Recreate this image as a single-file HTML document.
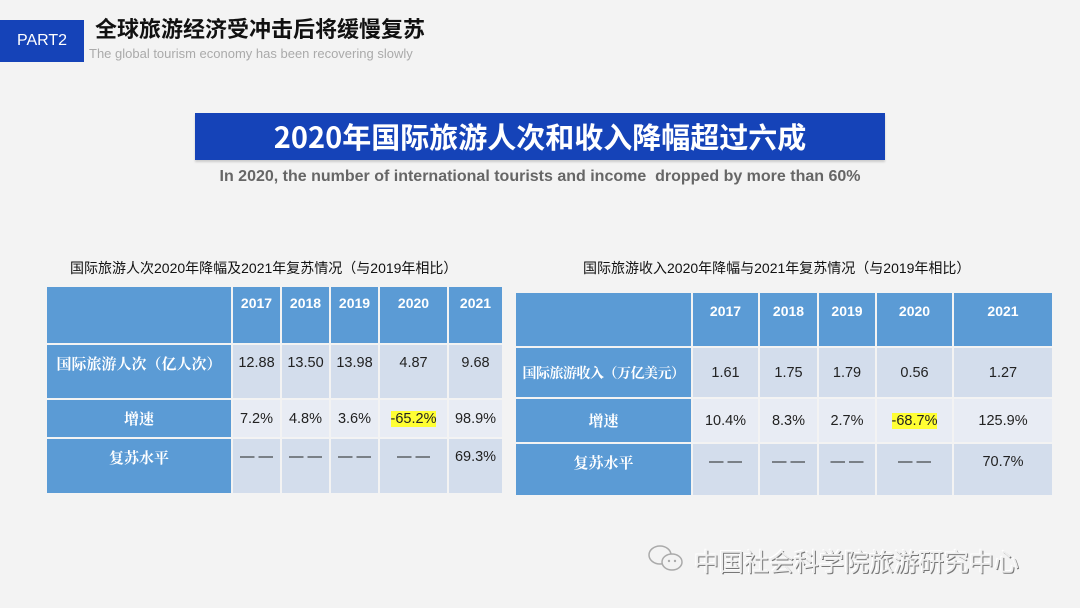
<!DOCTYPE html>
<html><head><meta charset="utf-8">
<style>
body{margin:0;width:1080px;height:608px;background:#f3f3f3;position:relative;overflow:hidden;font-family:"Liberation Sans","Noto Sans CJK SC",sans-serif}
.abs{position:absolute}
table{position:absolute;border-collapse:collapse;table-layout:fixed}
td{border:2px solid #f3f3f3;text-align:center;padding:0;font-size:14.5px;color:#222}
td.h{background:#5b9bd5;color:#fff;font-weight:bold;font-size:14px;vertical-align:top;padding-top:8px}
td.l{background:#5b9bd5;color:#fff;font-family:"Noto Serif CJK SC",serif;font-weight:bold;font-size:15px}
td.a{background:#d3ddec}
td.b{background:#e8ecf4}
.hl{background:#ffff33}
.d{letter-spacing:-1px}
</style></head><body>
<div class="abs" style="left:0;top:20px;width:84px;height:42px;background:#1543b8;color:#fff;font-size:16px;line-height:42px;text-align:center">PART2</div>
<div class="abs" style="left:95px;top:12px;font-size:22px;font-weight:bold;color:#111;font-family:'Noto Sans CJK SC',sans-serif">全球旅游经济受冲击后将缓慢复苏</div>
<div class="abs" style="left:89px;top:46px;font-size:13px;color:#aaa">The global tourism economy has been recovering slowly</div>
<div class="abs" style="left:195px;top:113px;width:690px;height:47px;background:#1543b8;color:#fff;font-size:29px;font-weight:bold;text-align:center;line-height:47px;font-family:'Noto Sans CJK SC',sans-serif;box-shadow:0 2px 2px #ccc">2020年国际旅游人次和收入降幅超过六成</div>
<div class="abs" style="left:195px;top:168px;width:690px;text-align:center;font-size:16px;font-weight:bold;color:#666">In 2020, the number of international tourists and income&nbsp; dropped by more than 60%</div>

<div class="abs" style="left:70px;top:258px;font-size:14px;color:#111">国际旅游人次2020年降幅及2021年复苏情况（与2019年相比）</div>
<table style="left:45px;top:285px;width:457px">
<colgroup><col style="width:186px"><col style="width:49px"><col style="width:49px"><col style="width:49px"><col style="width:69px"><col style="width:55px"></colgroup>
<tr style="height:58px"><td class="h"></td><td class="h">2017</td><td class="h">2018</td><td class="h">2019</td><td class="h">2020</td><td class="h">2021</td></tr>
<tr style="height:55px"><td class="l" style="vertical-align:top;padding-top:8px">国际旅游人次（亿人次）</td><td class="a" style="vertical-align:top;padding-top:10px">12.88</td><td class="a" style="vertical-align:top;padding-top:10px">13.50</td><td class="a" style="vertical-align:top;padding-top:10px">13.98</td><td class="a" style="vertical-align:top;padding-top:10px">4.87</td><td class="a" style="vertical-align:top;padding-top:10px">9.68</td></tr>
<tr style="height:39px"><td class="l">增速</td><td class="b">7.2%</td><td class="b">4.8%</td><td class="b">3.6%</td><td class="b"><span class="hl">-65.2%</span></td><td class="b">98.9%</td></tr>
<tr style="height:56px"><td class="l" style="vertical-align:top;padding-top:8px">复苏水平</td><td class="a" style="vertical-align:top;padding-top:10px">— —</td><td class="a" style="vertical-align:top;padding-top:10px">— —</td><td class="a" style="vertical-align:top;padding-top:10px">— —</td><td class="a" style="vertical-align:top;padding-top:10px">— —</td><td class="a" style="vertical-align:top;padding-top:10px">69.3%</td></tr>
</table>

<div class="abs" style="left:583px;top:258px;font-size:14px;color:#111">国际旅游收入2020年降幅与2021年复苏情况（与2019年相比）</div>
<table style="left:514px;top:291px;width:538px">
<colgroup><col style="width:177px"><col style="width:67px"><col style="width:59px"><col style="width:58px"><col style="width:77px"><col style="width:100px"></colgroup>
<tr style="height:55px"><td class="h" style="padding-top:10px">&nbsp;</td><td class="h" style="padding-top:10px">2017</td><td class="h" style="padding-top:10px">2018</td><td class="h" style="padding-top:10px">2019</td><td class="h" style="padding-top:10px">2020</td><td class="h" style="padding-top:10px">2021</td></tr>
<tr style="height:51px"><td class="l" style="font-size:14px;white-space:nowrap;letter-spacing:-0.5px">国际旅游收入（万亿美元）</td><td class="a">1.61</td><td class="a">1.75</td><td class="a">1.79</td><td class="a">0.56</td><td class="a">1.27</td></tr>
<tr style="height:45px"><td class="l">增速</td><td class="b">10.4%</td><td class="b">8.3%</td><td class="b">2.7%</td><td class="b"><span class="hl">-68.7%</span></td><td class="b">125.9%</td></tr>
<tr style="height:53px"><td class="l" style="vertical-align:top;padding-top:8px">复苏水平</td><td class="a" style="vertical-align:top;padding-top:10px">— —</td><td class="a" style="vertical-align:top;padding-top:10px">— —</td><td class="a" style="vertical-align:top;padding-top:10px">— —</td><td class="a" style="vertical-align:top;padding-top:10px">— —</td><td class="a" style="vertical-align:top;padding-top:10px">70.7%</td></tr>
</table>

<div class="abs" style="left:646px;top:544px;width:40px;height:30px">
<svg width="40" height="30"><ellipse cx="14" cy="11" rx="11" ry="9" fill="none" stroke="#aaa" stroke-width="1.5"/><ellipse cx="26" cy="18" rx="10" ry="8" fill="#f3f3f3" stroke="#aaa" stroke-width="1.5"/><circle cx="23" cy="17" r="1.2" fill="#aaa"/><circle cx="29" cy="17" r="1.2" fill="#aaa"/></svg></div>
<div class="abs" style="left:694px;top:543px;font-size:25px;color:#eeeeee;text-shadow:1px 1px 0 #777,-1px -1px 0 #fff;font-family:'Noto Sans CJK SC',sans-serif">中国社会科学院旅游研究中心</div>
</body></html>
